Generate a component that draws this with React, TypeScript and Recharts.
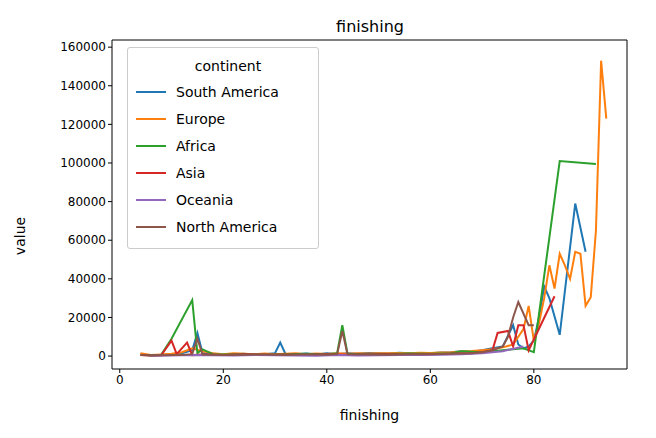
import { LineChart, Line, XAxis, YAxis } from 'recharts'

const southAmericaX = [4, 6, 8, 10, 12, 14, 15, 16, 18, 20, 22, 24, 26, 28, 30, 31, 32, 34, 36, 38, 40, 42, 44, 46, 48, 50, 52, 54, 56, 58, 60, 62, 64, 66, 68, 70, 72, 74, 76, 77, 78, 79, 80, 81, 82, 83, 85, 88, 90]
const southAmericaY = [1000, 300, 500, 800, 1500, 3000, 12000, 1500, 1200, 800, 1000, 1200, 700, 900, 1500, 7000, 1200, 900, 1300, 800, 1500, 1000, 1400, 1200, 1600, 1500, 1300, 1700, 1400, 1600, 1500, 1800, 2000, 2500, 2200, 3000, 4000, 5000, 16000, 6000, 4000, 5000, 8000, 20000, 36000, 30000, 11000, 79000, 54000]

const europeX = [4, 6, 8, 10, 12, 14, 16, 18, 20, 22, 24, 26, 28, 30, 32, 34, 36, 38, 40, 42, 44, 46, 48, 50, 52, 54, 56, 58, 60, 62, 64, 66, 68, 70, 72, 74, 76, 78, 79, 80, 81, 82, 83, 84, 85, 86, 87, 88, 89, 90, 91, 92, 93, 94]
const europeY = [1500, 500, 800, 1200, 2000, 4000, 2500, 1500, 1000, 1400, 1200, 1000, 1300, 900, 1200, 1500, 1000, 1300, 1100, 1500, 1200, 1400, 1300, 1500, 1400, 1600, 1500, 1700, 1600, 1800, 2000, 2400, 2600, 3000, 3500, 4500, 6000, 14000, 26000, 8000, 17000, 30000, 47000, 35000, 53000, 47000, 40000, 54000, 53000, 26000, 30500, 65000, 153000, 123000]

const africaX = [4, 8, 10, 14, 15, 16, 18, 20, 24, 28, 32, 36, 40, 42, 43, 44, 48, 52, 56, 60, 64, 66, 70, 74, 78, 80, 85, 92]
const africaY = [500, 600, 9000, 29000, 1500, 3500, 1000, 800, 900, 700, 1000, 1200, 900, 1500, 16000, 1200, 1000, 1100, 1300, 1200, 1500, 2500, 2000, 3000, 4000, 2000, 101000, 99500]

const asiaX = [4, 6, 8, 10, 11, 13, 14, 16, 20, 24, 28, 32, 36, 40, 44, 48, 52, 56, 60, 64, 68, 70, 72, 73, 75, 76, 77, 78, 79, 84]
const asiaY = [600, 300, 400, 8000, 1000, 7000, 500, 800, 600, 900, 700, 800, 600, 900, 700, 800, 900, 700, 1000, 1200, 1500, 2000, 3000, 12000, 13000, 5000, 16000, 16000, 3000, 31000]

const oceaniaX = [6, 10, 14, 18, 22, 26, 30, 34, 38, 42, 46, 50, 54, 58, 62, 66, 70, 74, 78]
const oceaniaY = [200, 300, 600, 400, 300, 500, 400, 300, 200, 500, 300, 400, 600, 500, 700, 1000, 1500, 2500, 5000]

const northAmericaX = [4, 6, 8, 10, 12, 14, 15, 16, 20, 24, 28, 32, 36, 40, 42, 43, 44, 48, 52, 56, 60, 64, 68, 70, 72, 74, 75, 76, 77, 79, 80]
const northAmericaY = [500, 300, 400, 500, 600, 1000, 9000, 800, 600, 700, 800, 600, 900, 700, 1000, 13000, 900, 800, 700, 900, 1000, 1200, 1500, 2000, 3000, 5000, 10000, 20000, 28000, 16000, 16000]

const continents = [
  { name: 'South America', color: '#1f77b4', xs: southAmericaX, ys: southAmericaY },
  { name: 'Europe', color: '#ff7f0e', xs: europeX, ys: europeY },
  { name: 'Africa', color: '#2ca02c', xs: africaX, ys: africaY },
  { name: 'Asia', color: '#d62728', xs: asiaX, ys: asiaY },
  { name: 'Oceania', color: '#9467bd', xs: oceaniaX, ys: oceaniaY },
  { name: 'North America', color: '#8c564b', xs: northAmericaX, ys: northAmericaY },
]

const xTicks = [0, 20, 40, 60, 80]
const yTicks = [0, 20000, 40000, 60000, 80000, 100000, 120000, 140000, 160000]

const font = 'DejaVu Sans, sans-serif'

export default function App() {
  return (
    <div style={{ position: 'relative', width: 648, height: 430, fontFamily: font }}>
      <div style={{ position: 'absolute', left: 0, width: 648, top: 9, textAlign: 'center', fontSize: 16, color: '#000', paddingLeft: 76, boxSizing: 'border-box' }}>
        finishing
      </div>
      <div style={{ position: 'absolute', left: -8, top: 220, width: 40, textAlign: 'center', fontSize: 14, transform: 'rotate(-90deg)' }}>
        value
      </div>
      <LineChart width={648} height={430} margin={{ top: 32, right: 29, bottom: 30, left: 36 }}>
        <XAxis
          type="number"
          dataKey="x"
          domain={[-1.5, 98]}
          ticks={xTicks}
          allowDuplicatedCategory={false}
          tick={{ fontSize: 12, fill: '#000', fontFamily: font }}
          stroke="#000"
          tickSize={4}
          height={39}
          label={{ value: 'finishing', position: 'insideBottom', offset: -12, fontSize: 14, fill: '#000' }}
        />
        <YAxis
          type="number"
          domain={[-6700, 163700]}
          ticks={yTicks}
          tick={{ fontSize: 12, fill: '#000', fontFamily: font }}
          stroke="#000"
          tickSize={4}
          width={68}
        />
        {continents.map((c) => (
          <Line
            key={c.name}
            data={c.xs.map((x, i) => ({ x, y: c.ys[i] }))}
            dataKey="y"
            type="linear"
            stroke={c.color}
            strokeWidth={2}
            dot={false}
            isAnimationActive={false}
          />
        ))}
        <line x1={104} y1={32} x2={619} y2={32} stroke="#000" />
        <line x1={619} y1={32} x2={619} y2={361} stroke="#000" />
      </LineChart>
      <div style={{ position: 'absolute', left: 119, top: 39, width: 192, height: 202, border: '1px solid #ccc', borderRadius: 3, background: 'rgba(255,255,255,0.85)', fontSize: 14, boxSizing: 'border-box', padding: '10px 8px' }}>
        <div style={{ textAlign: 'center', marginBottom: 4, paddingLeft: 10 }}>continent</div>
        {continents.map((c) => (
          <div key={c.name} style={{ display: 'flex', alignItems: 'center', height: 27 }}>
            <span style={{ display: 'inline-block', width: 30, height: 2, background: c.color, marginRight: 10 }} />
            {c.name}
          </div>
        ))}
      </div>
    </div>
  )
}
